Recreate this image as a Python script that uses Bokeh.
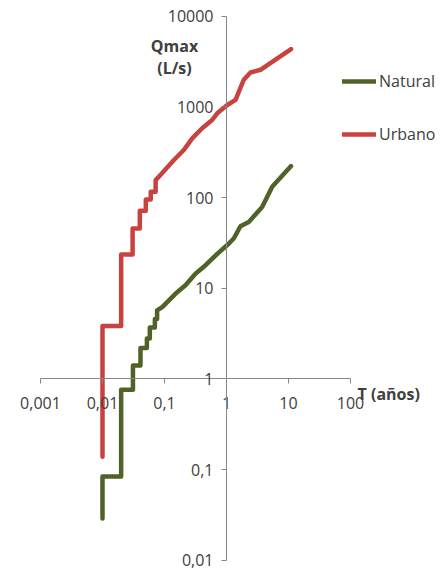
from bokeh.plotting import figure
from bokeh.models import Range1d, FixedTicker, CustomJSTickFormatter, Label, Legend, LegendItem
from bokeh.embed import file_html
from bokeh.resources import INLINE

# Data (T in years, Qmax in L/s)
natural_T = [0.01, 0.01, 0.02, 0.02, 0.031, 0.031, 0.041, 0.041, 0.052, 0.052, 0.058, 0.058,
             0.07, 0.07, 0.076, 0.076, 0.092, 0.15, 0.218, 0.316, 0.46, 0.665, 1.03, 1.31,
             1.68, 2.29, 3.76, 5.46, 11.0]
natural_Q = [0.029, 0.084, 0.084, 0.76, 0.76, 1.41, 1.41, 2.2, 2.2, 2.8, 2.8, 3.7,
             3.7, 4.6, 4.6, 5.7, 6.2, 8.7, 10.8, 14.5, 18, 23, 30, 35.4,
             48.4, 54, 79, 132, 223]

urbano_T = [0.01, 0.01, 0.02, 0.02, 0.0306, 0.0306, 0.04, 0.04, 0.05, 0.05, 0.06, 0.06,
            0.072, 0.072, 0.086, 0.142, 0.205, 0.28, 0.405, 0.588, 0.708, 1.03, 1.4,
            1.9, 2.44, 3.54, 5.1, 11.0]
urbano_Q = [0.139, 3.83, 3.83, 23.6, 23.6, 45.7, 45.7, 71.5, 71.5, 95.5, 95.5, 116,
            116, 156, 178, 260, 335, 451, 582, 718, 851, 1050, 1195,
            1995, 2400, 2570, 3040, 4345]

x_ticks = [0.001, 0.01, 0.1, 1, 10, 100]
y_ticks = [0.01, 0.1, 1, 10, 100, 1000, 10000]

FONT = "Open Sans"
AX = "#868686"
TXT = "#404040"
GREEN = "#4F6228"
RED = "#C8423F"

p = figure(width=440, height=572, x_axis_type="log", y_axis_type="log",
           x_range=Range1d(10 ** -3.645, 10 ** 3.452), y_range=Range1d(10 ** -2.134, 10 ** 4.174),
           output_backend="svg", toolbar_location=None,
           min_border_left=0, min_border_right=0, min_border_top=0, min_border_bottom=0)
p.outline_line_color = None
p.xgrid.visible = False
p.ygrid.visible = False

fmt = CustomJSTickFormatter(code="return tick.toString().replace('.', ',');")
for ax, ticks in ((p.xaxis[0], x_ticks), (p.yaxis[0], y_ticks)):
    ax.ticker = FixedTicker(ticks=ticks, minor_ticks=[])
    ax.formatter = fmt
    ax.fixed_location = 1
    ax.axis_line_color = AX
    ax.major_tick_line_color = AX
    ax.major_tick_out = 5
    ax.major_tick_in = 0
    ax.minor_tick_line_color = None
    ax.major_label_text_font = FONT
    ax.major_label_text_font_size = "16px"
    ax.major_label_text_color = TXT
p.xaxis[0].bounds = (0.001, 100)
p.yaxis[0].bounds = (0.01, 10000)
p.xaxis[0].major_label_standoff = 13
p.yaxis[0].major_label_standoff = 8

r_nat = p.line(natural_T, natural_Q, line_color=GREEN, line_width=4.5,
               line_cap="round", line_join="round")
r_urb = p.line(urbano_T, urbano_Q, line_color=RED, line_width=4.5,
               line_cap="round", line_join="round")

for txt, x, y, align in (("Qmax", 0.145, 4650, "center"), ("(L/s)", 0.145, 2660, "center"),
                         ("T (años)", 130, 0.69, "left")):
    p.add_layout(Label(x=x, y=y, text=txt, text_font=FONT, text_font_size="16px",
                       text_font_style="bold", text_color=TXT, text_align=align,
                       text_baseline="middle"))

legend = Legend(items=[LegendItem(label="Natural", renderers=[r_nat]),
                       LegendItem(label="Urbano", renderers=[r_urb])],
                location=(342, 427), orientation="vertical",
                glyph_width=34, glyph_height=20, label_height=20, label_standoff=3,
                spacing=31, padding=0, margin=0,
                border_line_color=None, background_fill_alpha=0,
                label_text_font=FONT, label_text_font_size="16px", label_text_color=TXT)
p.add_layout(legend)

open("out.html", "w").write(file_html(p, INLINE))
